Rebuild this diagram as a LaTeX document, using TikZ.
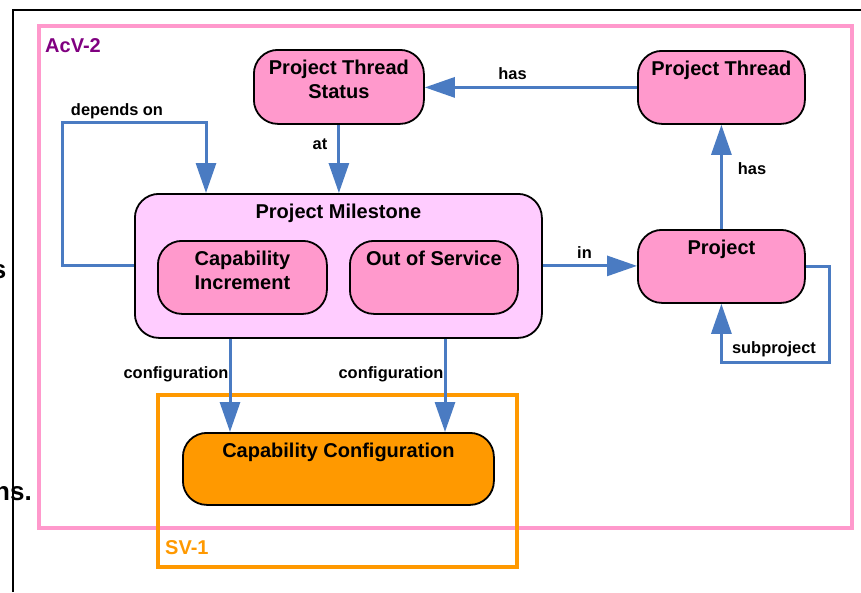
\documentclass[tikz,border=0pt]{standalone}
\usepackage{fontspec}
\setmainfont{Liberation Sans}
\usetikzlibrary{arrows.meta,calc}
\definecolor{nodepink}{HTML}{FF99CC}
\definecolor{milepink}{HTML}{FFCCFF}
\definecolor{cfgorange}{HTML}{FF9900}
\definecolor{connblue}{HTML}{4A7BC2}
\definecolor{acvpurple}{HTML}{800080}
\tikzset{
  box/.style={draw=black, line width=1.8pt, rounded corners=24pt, inner sep=0pt, anchor=north west},
  boxtxt/.style={anchor=north, inner sep=0pt, align=center, font=\fontsize{20}{24}\selectfont\bfseries},
  conn/.style={draw=connblue, line width=3pt, -{Triangle[length=30pt,width=20pt]}},
  elabel/.style={anchor=base, inner sep=0pt, font=\fontsize{16.4}{20}\selectfont\bfseries},
  glabel/.style={anchor=base west, inner sep=0pt, font=\fontsize{20}{24}\selectfont\bfseries},
  frag/.style={anchor=base east, inner sep=0pt, font=\fontsize{26}{30}\selectfont\bfseries},
}
\begin{document}
\begin{tikzpicture}[x=1pt,y=-1pt]
\useasboundingbox (0,0) rectangle (861,592);
% page frame lines
\draw[line width=1.5pt] (13,592) -- (13,10) -- (861,10);
% group frames
\draw[draw=nodepink, line width=4pt] (38.5,26) rectangle (851.5,527.5);
\draw[draw=cfgorange, line width=4pt] (158,394.5) rectangle (517,566.5);
\node[glabel, text=acvpurple] (acv) at (45,52) {AcV-2};
\node[glabel, text=cfgorange] (sv) at (165,554) {SV-1};
% boxes
\node[box, fill=nodepink, minimum width=170pt, minimum height=74pt] (pts) at (253,49) {};
\node[boxtxt] (ptsT) at ($(pts.north)+(0,11)$) {Project Thread\\Status};
\node[box, fill=nodepink, minimum width=167pt, minimum height=73pt] (pt) at (637,50) {};
\node[boxtxt] (ptT) at ($(pt.north)+(0,11)$) {Project Thread};
\node[box, fill=nodepink, minimum width=167pt, minimum height=73pt] (p) at (637,229) {};
\node[boxtxt] (pT) at ($(p.north)+(0,11)$) {Project};
\node[box, fill=milepink, minimum width=407pt, minimum height=144pt] (pm) at (134,193) {};
\node[boxtxt] (pmT) at ($(pm.north)+(0,11)$) {Project Milestone};
\node[box, fill=nodepink, minimum width=169pt, minimum height=73pt] (ci) at (157,240) {};
\node[boxtxt] (ciT) at ($(ci.north)+(0,11)$) {Capability\\Increment};
\node[box, fill=nodepink, minimum width=168pt, minimum height=73pt] (os) at (349,240) {};
\node[boxtxt] (osT) at ($(os.north)+(0,11)$) {Out of Service};
\node[box, fill=cfgorange, minimum width=311pt, minimum height=72pt] (cc) at (182,432) {};
\node[boxtxt] (ccT) at ($(cc.north)+(0,11)$) {Capability Configuration};
% connectors
\draw[conn] (pt.west) -- (pt.west -| pts.east);
\draw[conn] (pts.south) -- (pts.south |- pm.north);
\draw[conn] (pm.west) -- ++(-72,0) |- ($(pm.north west)+(72,-71)$) -- ($(pm.north west)+(72,0)$);
\draw[conn] (pm.east) -- (pm.east -| p.west);
\draw[conn] (p.north) -- (p.north |- pt.south);
\draw[conn] (p.east) -- ++(24,0) -- ++(0,96) -| (p.south);
\draw[conn] ($(pm.south west)+(96,0)$) coordinate (c1) -- (c1 |- cc.north);
\draw[conn] ($(pm.south west)+(311,0)$) coordinate (c2) -- (c2 |- cc.north);
% edge labels
\node[elabel] (l1) at (512.5,79) {has};
\node[elabel] (l2) at (320,149) {at};
\node[elabel] (l3) at (117,115) {depends on};
\node[elabel] (l4) at (584.5,258) {in};
\node[elabel] (l5) at (752,174) {has};
\node[elabel] (l6) at (774,353) {subproject};
\node[elabel] (l7) at (176,378) {configuration};
\node[elabel] (l8) at (391,378) {configuration};
% cut-off text at left edge
\node[frag] (f1) at (6.5,278) {s};
\node[frag] (f2) at (32,500) {ns.};
\end{tikzpicture}
\end{document}
